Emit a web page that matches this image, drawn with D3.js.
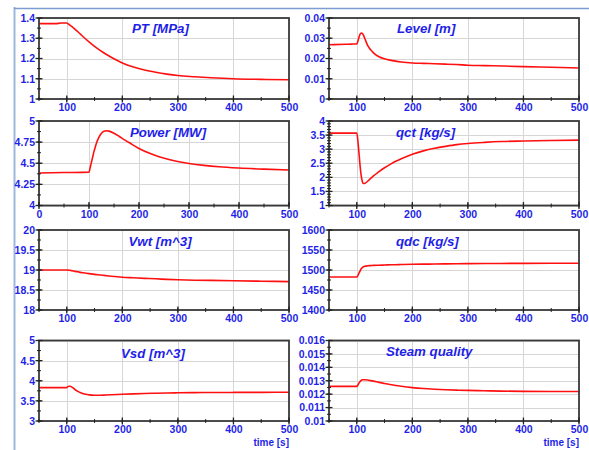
<!DOCTYPE html>
<html>
<head>
<meta charset="utf-8">
<script src="https://cdn.jsdelivr.net/npm/d3@7"></script>
<style>
  html, body { margin: 0; padding: 0; background: #ffffff; }
  svg { display: block; }
  text { font-family: "Liberation Sans", Arial, sans-serif; }
</style>
</head>
<body>
<svg id="chart" width="589" height="450"></svg>
<script>
// Simulation time (s) shared by most signals
const time = [50, 80, 90, 100, 102, 104, 106, 108, 110, 112, 115, 120, 125, 130, 140, 150, 160, 170, 180, 200, 220, 240, 260, 280, 300, 330, 360, 400, 450, 500];
// Power is logged from t = 0
const powerTime = [0, 50, 100, 102, 104, 106, 108, 110, 112, 115, 120, 125, 130, 135, 140, 150, 160, 170, 180, 200, 220, 240, 260, 280, 300, 330, 360, 400, 450, 500];

const ptValues = [1.372, 1.372, 1.375, 1.375, 1.372, 1.368, 1.364, 1.360, 1.356, 1.351, 1.344, 1.332, 1.319, 1.306, 1.282, 1.260, 1.240, 1.222, 1.206, 1.178, 1.158, 1.143, 1.132, 1.123, 1.116, 1.110, 1.105, 1.100, 1.097, 1.095];
const levelValues = [0.0268, 0.0270, 0.0271, 0.0272, 0.0285, 0.0305, 0.0320, 0.0326, 0.0324, 0.0316, 0.0295, 0.0262, 0.0243, 0.0228, 0.0209, 0.0199, 0.0192, 0.0187, 0.0183, 0.0178, 0.0176, 0.0174, 0.0172, 0.0170, 0.0167, 0.0165, 0.0163, 0.0160, 0.0157, 0.0153];
const powerValues = [4.385, 4.39, 4.395, 4.44, 4.49, 4.54, 4.59, 4.64, 4.68, 4.74, 4.81, 4.855, 4.88, 4.885, 4.88, 4.855, 4.82, 4.78, 4.745, 4.675, 4.62, 4.578, 4.545, 4.518, 4.498, 4.475, 4.458, 4.443, 4.43, 4.42];
const qctValues = [3.57, 3.57, 3.57, 3.57, 3.3, 2.85, 2.4, 2.05, 1.85, 1.78, 1.79, 1.87, 1.96, 2.05, 2.2, 2.34, 2.46, 2.57, 2.66, 2.82, 2.94, 3.03, 3.1, 3.16, 3.2, 3.24, 3.27, 3.29, 3.31, 3.32];
const vwtValues = [19.0, 19.0, 19.0, 19.0, 18.998, 18.995, 18.99, 18.985, 18.98, 18.975, 18.965, 18.955, 18.94, 18.93, 18.91, 18.89, 18.875, 18.86, 18.845, 18.82, 18.805, 18.79, 18.78, 18.765, 18.755, 18.745, 18.74, 18.73, 18.72, 18.71];
const qdcValues = [1482.5, 1482.5, 1482.5, 1482.5, 1486, 1492, 1498, 1503, 1506, 1508, 1509.5, 1510.5, 1511, 1511.5, 1512, 1512.5, 1513, 1513.3, 1513.6, 1514.2, 1514.6, 1515, 1515.4, 1515.7, 1516, 1516.2, 1516.4, 1516.6, 1516.8, 1517];
const vsdValues = [3.83, 3.83, 3.83, 3.83, 3.855, 3.865, 3.865, 3.855, 3.835, 3.815, 3.78, 3.735, 3.70, 3.675, 3.65, 3.64, 3.64, 3.645, 3.652, 3.665, 3.675, 3.683, 3.69, 3.695, 3.70, 3.705, 3.708, 3.71, 3.712, 3.715];
const steamValues = [0.01258, 0.01258, 0.01258, 0.01258, 0.01268, 0.01282, 0.01295, 0.01303, 0.01307, 0.01308, 0.01308, 0.01305, 0.01301, 0.01297, 0.01288, 0.0128, 0.01272, 0.01265, 0.01259, 0.01249, 0.01242, 0.01237, 0.01233, 0.0123, 0.01228, 0.01225, 0.01223, 0.01221, 0.0122, 0.0122];

// Axis tick labels
const timeTicks = [100, 200, 300, 400, 500];
const powerTimeTicks = [0, 100, 200, 300, 400, 500];
const ptTicks = [1, 1.1, 1.2, 1.3, 1.4];
const levelTicks = [0, 0.01, 0.02, 0.03, 0.04];
const powerTicks = [4, 4.25, 4.5, 4.75, 5];
const qctTicks = [1, 1.5, 2, 2.5, 3, 3.5, 4];
const vwtTicks = [18, 18.5, 19, 19.5, 20];
const qdcTicks = [1400, 1450, 1500, 1550, 1600];
const vsdTicks = [3, 3.5, 4, 4.5, 5];
const steamTicks = [0.01, 0.011, 0.012, 0.013, 0.014, 0.015, 0.016];

const titles = ["PT [MPa]", "Level [m]", "Power [MW]", "qct [kg/s]", "Vwt [m^3]", "qdc [kg/s]", "Vsd [m^3]", "Steam quality"];

// Layout
const colX = [[39, 289], [329, 579]];
const rowY = [[18, 99], [121, 205.5], [230, 310], [340.5, 421]];
const blue = "#1f1fe8";

const panels = [
  { t: time, v: ptValues, xd: [50, 500], xt: timeTicks, yt: ptTicks, minor: 0.05, col: 0, row: 0, tx: 132, ty: 14.5 },
  { t: time, v: levelValues, xd: [50, 500], xt: timeTicks, yt: levelTicks, minor: 0.005, col: 1, row: 0, tx: 397, ty: 14.5 },
  { t: powerTime, v: powerValues, xd: [0, 500], xt: powerTimeTicks, yt: powerTicks, minor: 0.125, col: 0, row: 1, tx: 130, ty: 15.5 },
  { t: time, v: qctValues, xd: [50, 500], xt: timeTicks, yt: qctTicks, minor: 0.1, col: 1, row: 1, tx: 396, ty: 15.5 },
  { t: time, v: vwtValues, xd: [50, 500], xt: timeTicks, yt: vwtTicks, minor: 0.25, col: 0, row: 2, tx: 128.5, ty: 16 },
  { t: time, v: qdcValues, xd: [50, 500], xt: timeTicks, yt: qdcTicks, minor: 25, col: 1, row: 2, tx: 396, ty: 16 },
  { t: time, v: vsdValues, xd: [50, 500], xt: timeTicks, yt: vsdTicks, minor: 0.25, col: 0, row: 3, tx: 121, ty: 17.5 },
  { t: time, v: steamValues, xd: [50, 500], xt: timeTicks, yt: steamTicks, minor: 0.0005, col: 1, row: 3, tx: 386, ty: 15.5 }
];

const svg = d3.select("#chart");

// window frame
svg.append("line").attr("x1", 14.5).attr("x2", 14.5).attr("y1", 7).attr("y2", 450)
  .attr("stroke", "#9db8de").attr("stroke-width", 2);
svg.append("line").attr("x1", 14).attr("x2", 589).attr("y1", 8.5).attr("y2", 8.5)
  .attr("stroke", "#7b9dd0").attr("stroke-width", 1.6);

panels.forEach((p, i) => {
  const [x0, x1] = colX[p.col];
  const [y0, y1] = rowY[p.row];
  const yd = [p.yt[0], p.yt[p.yt.length - 1]];
  const x = d3.scaleLinear().domain(p.xd).range([x0, x1]);
  const y = d3.scaleLinear().domain(yd).range([y1, y0]);
  const g = svg.append("g");

  // grid
  g.append("g").selectAll("line").data(p.xt).join("line")
    .attr("x1", d => Math.round(x(d)) + 0.5).attr("x2", d => Math.round(x(d)) + 0.5)
    .attr("y1", y0).attr("y2", y1).attr("stroke", "#d6d6d6").attr("stroke-width", 1);
  g.append("g").selectAll("line").data(p.yt).join("line")
    .attr("y1", d => Math.round(y(d)) + 0.5).attr("y2", d => Math.round(y(d)) + 0.5)
    .attr("x1", x0).attr("x2", x1).attr("stroke", "#d6d6d6").attr("stroke-width", 1);

  // series
  const clipId = "clip" + i;
  svg.append("clipPath").attr("id", clipId).append("rect")
    .attr("x", x0).attr("y", y0).attr("width", x1 - x0).attr("height", y1 - y0);
  const line = d3.line().x((d, k) => x(p.t[k])).y(d => y(d)).curve(d3.curveMonotoneX);
  g.append("path").datum(p.v).attr("d", line).attr("clip-path", `url(#${clipId})`)
    .attr("fill", "none").attr("stroke", "#ff1010").attr("stroke-width", 1.6);

  // frame
  g.append("rect").attr("x", x0).attr("y", y0).attr("width", x1 - x0).attr("height", y1 - y0)
    .attr("fill", "none").attr("stroke", "#3a3a3a").attr("stroke-width", 1.8);

  // y axis labels
  const ya = d3.axisLeft(y).tickValues(p.yt).tickSize(0).tickPadding(4).tickFormat(d3.format("~g"));
  const yg = g.append("g").attr("transform", `translate(${x0},0)`).call(ya);
  yg.select(".domain").remove();
  yg.selectAll("text").attr("fill", blue).attr("font-size", 10.5).attr("font-weight", "bold")
    .attr("font-family", '"Liberation Sans", Arial, sans-serif');

  // x axis labels
  const xa = d3.axisBottom(x).tickValues(p.xt).tickSize(0).tickPadding(5).tickFormat(d3.format("d"));
  const xg = g.append("g").attr("transform", `translate(0,${y1})`).call(xa);
  xg.select(".domain").remove();
  xg.selectAll("text").attr("fill", blue).attr("font-size", 10.5).attr("font-weight", "bold")
    .attr("font-family", '"Liberation Sans", Arial, sans-serif');

  // tick marks crossing the axes
  const yMinor = d3.range(yd[0], yd[1] + p.minor / 2, p.minor);
  g.append("g").selectAll("line").data(yMinor).join("line")
    .attr("x1", x0 - 2).attr("x2", x0 + 2)
    .attr("y1", d => y(d)).attr("y2", d => y(d)).attr("stroke", "#222").attr("stroke-width", 1);
  g.append("g").selectAll("line").data(p.yt).join("line")
    .attr("x1", x0 - 3.5).attr("x2", x0 + 3.5)
    .attr("y1", d => y(d)).attr("y2", d => y(d)).attr("stroke", "#222").attr("stroke-width", 1.3);
  const xMinor = d3.range(p.xd[0], p.xd[1] + 1, 50);
  g.append("g").selectAll("line").data(xMinor).join("line")
    .attr("x1", d => x(d)).attr("x2", d => x(d))
    .attr("y1", y1 - 2).attr("y2", y1 + 2).attr("stroke", "#222").attr("stroke-width", 1);
  g.append("g").selectAll("line").data(p.xt).join("line")
    .attr("x1", d => x(d)).attr("x2", d => x(d))
    .attr("y1", y1 - 3.5).attr("y2", y1 + 3.5).attr("stroke", "#222").attr("stroke-width", 1.3);

  // title
  g.append("text").attr("x", p.tx).attr("y", y0 + p.ty)
    .attr("fill", blue).attr("font-size", 13.3).attr("font-weight", "bold").attr("font-style", "italic")
    .text(titles[i]);
});

// time axis captions under the bottom row
[0, 1].forEach(c => {
  svg.append("text").attr("x", colX[c][1]).attr("y", 446).attr("text-anchor", "end")
    .attr("fill", blue).attr("font-size", 10).attr("font-weight", "bold").text("time [s]");
});
</script>
</body>
</html>
